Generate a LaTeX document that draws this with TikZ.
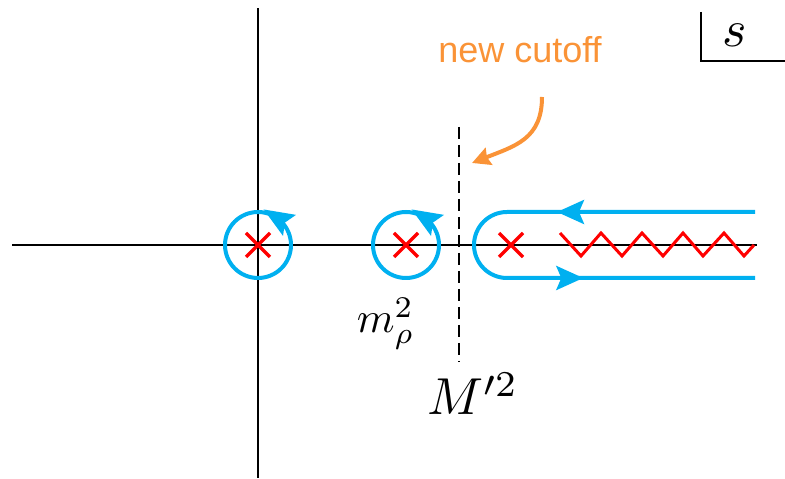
\documentclass[tikz,border=0pt]{standalone}
\usepackage{fontspec}
\newfontfamily\notefont{Liberation Sans}
\usepackage{tikz}
\usetikzlibrary{arrows.meta,decorations.markings}
\definecolor{contourblue}{RGB}{0,176,240}
\definecolor{polered}{RGB}{255,0,0}
\definecolor{noteorange}{RGB}{250,147,55}

\begin{document}
\begin{tikzpicture}[x=1pt,y=1pt,>=Stealth,
  axis/.style={line width=1.5pt},
  contour/.style={contourblue,line width=4pt},
  pole/.style={polered,line width=3.5pt},
  bigtip/.style={-{Stealth[length=30pt,width=24pt,inset=5pt]}}]
\useasboundingbox (0,0) rectangle (785,479);
% axes of the s plane
\draw[axis] (12,234) -- (757,234);
\draw[axis] (258,1) -- (258,471);
% s label in corner
\draw[axis] (701,467) -- (701,418) -- (785,418);
\node[scale=5.2,inner sep=0pt] (svar) at (735,444) {$s$};
% poles
\coordinate (p1) at (258,234);
\coordinate (p2) at (406,234);
\coordinate (p3) at (511,234);
% small circles round the first two poles
\foreach \p in {p1,p2} {
  \draw[contour] (\p) circle (33);
  \draw[contour,bigtip] (\p) +(40:35) -- +(81:36);
}
% contour round the cut
\draw[contour,postaction={decorate},decoration={markings,
    mark=at position 198pt with {\arrow{Stealth[length=27pt,width=24pt,inset=5pt]}},
    mark=at position 428pt with {\arrow{Stealth[length=27pt,width=24pt,inset=5pt]}}}]
  (755,267) -- (507,267) arc[start angle=90,end angle=270,radius=33] -- (755,201);
% crosses and branch cut
\foreach \p in {p1,p2,p3}
  \draw[pole] (\p) +(-12,-12) -- +(12,12) (\p) +(-12,12) -- +(12,-12);
\draw[pole,line width=3pt] (560,246) -- (581,223) -- (601,246) -- (622,223) -- (642,246)
  -- (663,223) -- (683,246) -- (703,223) -- (724,246) -- (744,223) -- (754,234);
% cutoff line
\coordinate (cuttop) at (459,352);
\coordinate (cutbot) at (459,117);
\draw[line width=2pt,dash pattern=on 12pt off 6pt] (cuttop) -- (cutbot);
% labels
\node[scale=4.3,inner sep=0pt,anchor=base west] (mrho) at (356,146) {$m_\rho^2$};
\node[scale=5.2,inner sep=0pt,anchor=base west] (mprime) at (426,64) {$M'^2$};
\node[noteorange,inner sep=0pt,anchor=base,font=\fontsize{36}{40}\notefont] (cutoff) at (520,416) {new cutoff};
\coordinate (notestart) at (542,382);
\coordinate (notetip) at (472,316);
\draw[noteorange,line width=4pt,-{Stealth[length=18pt,width=18pt,inset=2pt]}] (notestart) .. controls (542,340) and (515,333) .. (notetip);
\end{tikzpicture}
\end{document}
